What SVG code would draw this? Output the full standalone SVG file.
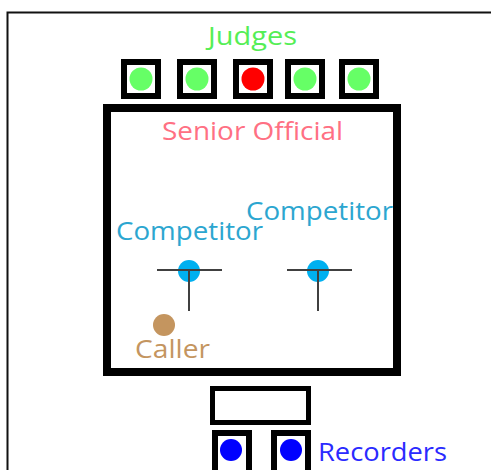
<svg xmlns="http://www.w3.org/2000/svg" width="491" height="470" viewBox="0 0 491 470">
<style>
text{font-family:"Open Sans","Noto Sans",sans-serif;font-size:25px;}
.box{fill:#fff;stroke:#000;stroke-width:6;}
.green{fill:#66FF66;}
.line{stroke:#404040;stroke-width:2;fill:none;}
.comp{fill:#00B0F0;}
.ctext{fill:#2CA6D0;}
</style>
<rect width="491" height="470" fill="#fff"/>
<rect x="7.5" y="12.5" width="500" height="500" fill="none" stroke="#111" stroke-width="2"/>
<g id="judges">
<text x="208" y="45" fill="#55EE55" textLength="89" lengthAdjust="spacingAndGlyphs">Judges</text>
<g id="judge1"><rect class="box" x="124" y="62" width="34" height="34"/><circle class="green" cx="141" cy="79" r="11.5"/></g>
<g id="judge2"><rect class="box" x="180" y="62" width="34" height="34"/><circle class="green" cx="197" cy="79" r="11.5"/></g>
<g id="judge3"><rect class="box" x="236" y="62" width="34" height="34"/><circle fill="#FF0000" cx="253" cy="79" r="11.5"/></g>
<g id="judge4"><rect class="box" x="288" y="62" width="34" height="34"/><circle class="green" cx="305" cy="79" r="11.5"/></g>
<g id="judge5"><rect class="box" x="342" y="62" width="34" height="34"/><circle class="green" cx="359" cy="79" r="11.5"/></g>
</g>
<g id="field">
<rect x="107" y="108" width="290" height="264" fill="#fff" stroke="#000" stroke-width="8"/>
<text x="162" y="140" fill="#FF7083" textLength="181" lengthAdjust="spacingAndGlyphs">Senior Official</text>
</g>
<g id="competitor1">
<text x="116" y="240" class="ctext" textLength="147" lengthAdjust="spacingAndGlyphs">Competitor</text>
<circle class="comp" cx="189" cy="271" r="11"/>
<path class="line" d="M157 270H222M189 270V311"/>
</g>
<g id="competitor2">
<text x="246" y="220" class="ctext" textLength="147" lengthAdjust="spacingAndGlyphs">Competitor</text>
<circle class="comp" cx="318" cy="271" r="11"/>
<path class="line" d="M287 270H352M318 270V311"/>
</g>
<g id="caller">
<circle fill="#C4955F" cx="164" cy="325" r="11"/>
<text x="135" y="358" fill="#C4955F" textLength="75" lengthAdjust="spacingAndGlyphs">Caller</text>
</g>
<g id="table">
<rect x="212.5" y="388.5" width="96" height="34" fill="#fff" stroke="#000" stroke-width="5"/>
</g>
<g id="recorders">
<g id="recorder1"><rect class="box" x="215" y="433" width="34" height="40"/><circle fill="#0000FF" cx="231" cy="450" r="11"/></g>
<g id="recorder2"><rect class="box" x="274" y="433" width="34" height="40"/><circle fill="#0000FF" cx="291" cy="450" r="11"/></g>
<text x="318" y="461" fill="#2A2AFF" textLength="129" lengthAdjust="spacingAndGlyphs">Recorders</text>
</g>
<g id="connectors"></g>
</svg>
